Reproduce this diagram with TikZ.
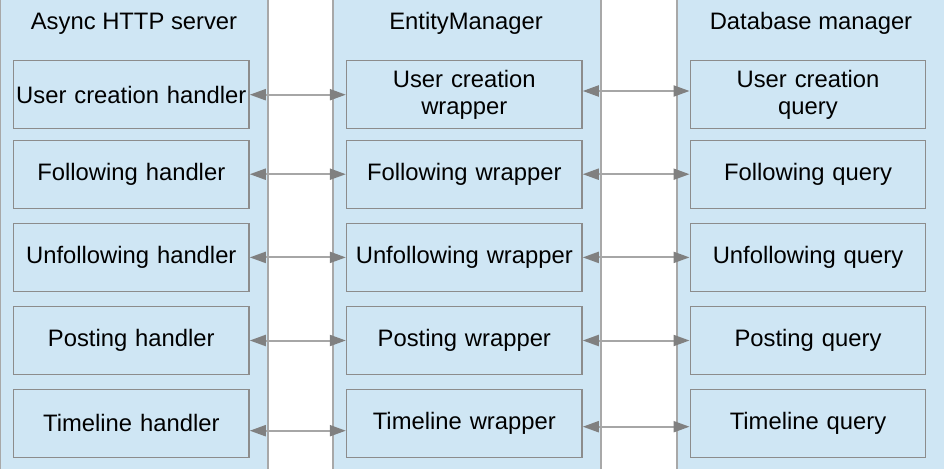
\documentclass[tikz,border=0pt]{standalone}
\usepackage{fontspec}
\setmainfont{Liberation Sans}
\usetikzlibrary{arrows.meta}
\definecolor{boxfill}{RGB}{207,230,244}
\definecolor{outerline}{RGB}{168,168,168}
\definecolor{innerline}{RGB}{140,140,140}
\definecolor{arrline}{RGB}{166,166,166}
\definecolor{arrhead}{RGB}{128,128,128}
\tikzset{
  container/.style={draw=outerline, fill=boxfill, line width=2pt, minimum width=268pt, minimum height=474pt, inner sep=0pt},
  header/.style={font=\fontsize{23.8}{27.5}\selectfont, inner sep=0pt, anchor=base},
  inner/.style={draw=innerline, fill=boxfill, line width=1.4pt, minimum width=235.5pt, minimum height=68pt, inner sep=0pt, align=center, text width=232pt, font=\fontsize{23.8}{27.5}\selectfont},
  link/.style={draw=arrline, line width=2pt, {Triangle[length=16pt,width=11pt,color=arrhead]}-{Triangle[length=16pt,width=11pt,color=arrhead]}}
}
\begin{document}
\begin{tikzpicture}[x=1pt,y=-1pt]
\useasboundingbox (0,0) rectangle (944,468);
\node[container] (c1) at (134,234) {};
\node[container] (c2) at (467,234) {};
\node[container] (c3) at (811,234) {};
\node[header] (h1) at (134,29.3) {Async HTTP server};
\node[header] (h2) at (466,29.3) {EntityManager};
\node[header] (h3) at (811,29.3) {Database manager};
% rows
\node[inner] (a1) at (131.3,94.7) {User creation handler};
\node[inner] (a2) at (131.3,174.2) {Following handler};
\node[inner] (a3) at (131.3,257.4) {Unfollowing handler};
\node[inner] (a4) at (131.3,340.5) {Posting handler};
\node[inner] (a5) at (131.3,423.3) {Timeline handler};
\node[inner] (b1) at (464.3,94.7) {User creation\\wrapper};
\node[inner] (b2) at (464.3,174.2) {Following wrapper};
\node[inner] (b3) at (464.3,257.4) {Unfollowing wrapper};
\node[inner] (b4) at (464.3,340.5) {Posting wrapper};
\node[inner] (b5) at (464.3,423.3) {Timeline wrapper};
\node[inner] (d1) at (808,94.7) {User creation\\query};
\node[inner] (d2) at (808,174.2) {Following query};
\node[inner] (d3) at (808,257.4) {Unfollowing query};
\node[inner] (d4) at (808,340.5) {Posting query};
\node[inner] (d5) at (808,423.3) {Timeline query};
% links
\draw[link] (a1.east) -- (b1.west);
\draw[link] (a2.east) -- (b2.west);
\draw[link] (a3.east) -- (b3.west);
\draw[link] (a4.east) -- (b4.west);
\draw[link] ([yshift=-7.4pt]a5.east) -- ([yshift=-7.4pt]b5.west);
\draw[link] ([yshift=3.7pt]b1.east) -- ([yshift=3.7pt]d1.west);
\draw[link] (b2.east) -- (d2.west);
\draw[link] (b3.east) -- (d3.west);
\draw[link] (b4.east) -- (d4.west);
\draw[link] ([yshift=-3.4pt]b5.east) -- ([yshift=-3.4pt]d5.west);
\end{tikzpicture}
\end{document}
